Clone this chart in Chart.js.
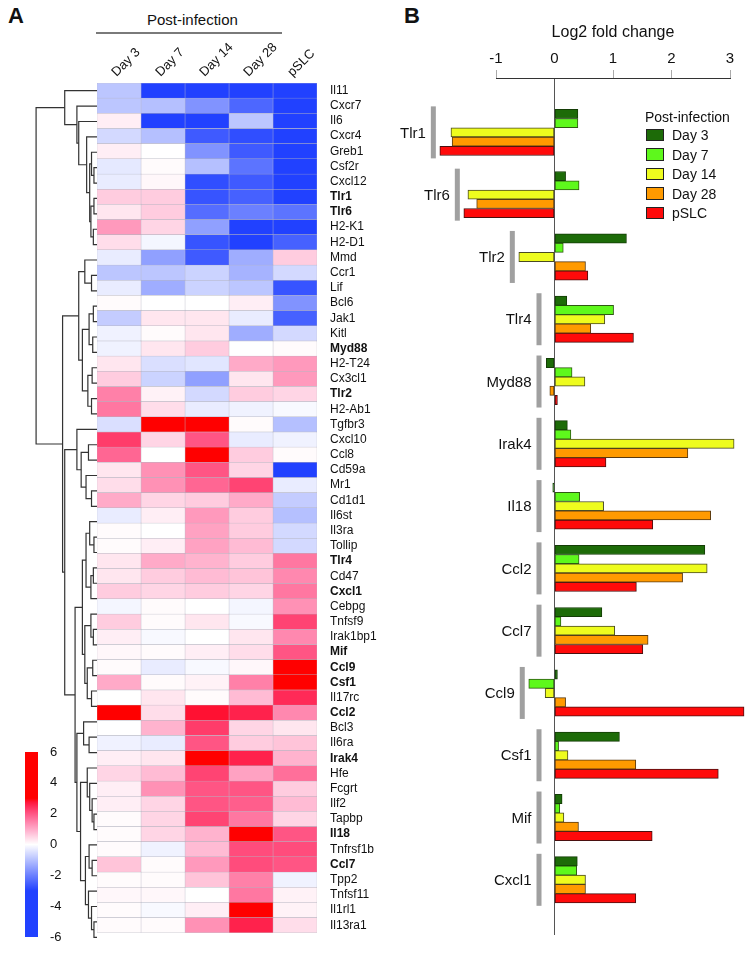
<!DOCTYPE html>
<html>
<head>
<meta charset="utf-8">
<script src="https://cdn.jsdelivr.net/npm/chart.js@4.4.1/dist/chart.umd.min.js"></script>
<style>
  body { margin: 0; background: #fff; font-family: "Liberation Sans", Arial, sans-serif; color: #111; }
  #wrap { position: relative; width: 750px; height: 960px; overflow: hidden; }
  canvas { position: absolute; }
  .panel { position: absolute; font-weight: bold; font-size: 22px; line-height: 22px; }
  #postHead { position: absolute; left: 147px; top: 11px; font-size: 15px; line-height: 18px; }
  #postLine { position: absolute; left: 96px; top: 32px; width: 186px; height: 0; border-top: 2px solid #7a7a7a; }
  #legend { position: absolute; left: 645px; top: 108px; font-size: 14px; line-height: 18px; }
  #legend .item { height: 19.6px; line-height: 19.6px; white-space: nowrap; }
  #legend .box { display: inline-block; width: 16px; height: 10.5px; border: 1.2px solid #222; vertical-align: -1px; margin: 0 8px 0 1px; }
</style>
</head>
<body>
<div id="wrap">
  <div class="panel" style="left:8px; top:5px;">A</div>
  <div class="panel" style="left:404px; top:5px;">B</div>
  <div id="postHead">Post-infection</div>
  <div id="postLine"></div>
  <canvas id="dendro" width="67" height="945" style="left:30px; top:0;"></canvas>
  <canvas id="heat" width="290" height="945" style="left:97px; top:0;"></canvas>
  <canvas id="cbar" width="50" height="210" style="left:25px; top:740px;"></canvas>
  <canvas id="bars" width="410" height="960" style="left:340px; top:0;"></canvas>
  <div id="legend"></div>
</div>
<script>
// ---- Panel A: heatmap data (log2 fold change, colour saturates around +/-3)
const genes = ['Il11', 'Cxcr7', 'Il6', 'Cxcr4', 'Greb1', 'Csf2r', 'Cxcl12', 'Tlr1', 'Tlr6', 'H2-K1',
  'H2-D1', 'Mmd', 'Ccr1', 'Lif', 'Bcl6', 'Jak1', 'Kitl', 'Myd88', 'H2-T24', 'Cx3cl1',
  'Tlr2', 'H2-Ab1', 'Tgfbr3', 'Cxcl10', 'Ccl8', 'Cd59a', 'Mr1', 'Cd1d1', 'Il6st', 'Il3ra',
  'Tollip', 'Tlr4', 'Cd47', 'Cxcl1', 'Cebpg', 'Tnfsf9', 'Irak1bp1', 'Mif', 'Ccl9', 'Csf1',
  'Il17rc', 'Ccl2', 'Bcl3', 'Il6ra', 'Irak4', 'Hfe', 'Fcgrt', 'Ilf2', 'Tapbp', 'Il18',
  'Tnfrsf1b', 'Ccl7', 'Tpp2', 'Tnfsf11', 'Il1rl1', 'Il13ra1'];
const boldGenes = ['Tlr1', 'Tlr6', 'Myd88', 'Tlr2', 'Tlr4', 'Cxcl1', 'Mif', 'Ccl9', 'Csf1', 'Ccl2', 'Irak4', 'Il18', 'Ccl7'];
const heatColumns = ['Day 3', 'Day 7', 'Day 14', 'Day 28', 'pSLC'];

const heatDay3 = [-0.9, -0.9, 0.2, -0.6, 0.2, -0.35, -0.3, 0.6, 0.3, 1.2,
  0.4, -0.3, -0.9, -0.3, 0.05, -0.8, -0.2, -0.2, 0.3, 0.6,
  1.5, 1.6, -0.5, 2.3, 1.8, 0.3, 0.4, 1.0, -0.3, 0.05,
  0.05, 0.3, 0.3, 0.6, -0.15, 0.6, 0.2, 0.1, 0.05, 1.0,
  0, 3.5, 0, -0.2, 0.2, 0.5, 0.2, 0.2, 0.05, 0.05,
  0.05, 0.7, 0.05, 0.1, 0.05, 0.05];
const heatDay7 = [-4, -1.0, -4, -1.0, 0, 0.05, 0.1, 0.6, 0.6, 0.5,
  -0.15, -1.5, -0.9, -1.3, 0, 0.3, 0.05, 0.3, -0.5, -0.7,
  0.15, 0.4, 4, 0.5, 0, 1.3, 1.3, 0.5, 0.2, 0,
  0.2, 1.0, 0.6, 0.5, 0.05, 0.05, -0.1, 0.05, -0.3, 0.05,
  0.3, 0.4, 0.9, -0.3, 0.3, 0.8, 1.3, 0.5, 0.5, 0.5,
  -0.2, 0.05, 0.05, 0.1, -0.1, 0.05];
const heatDay14 = [-4, -1.7, -4, -2.6, -1.7, -1.0, -2.8, -2.7, -2.3, -1.5,
  -2.7, -2.6, -0.7, -0.7, 0, 0.3, 0.3, 0.6, -0.4, -1.5,
  -0.6, -0.3, 4, 2.0, 3.5, 2.0, 1.8, 0.6, 1.2, 1.1,
  1.1, 0.9, 0.8, 0.6, 0, 0.3, 0, 0.2, -0.1, 0.15,
  0.05, 2.8, 2.3, 2.0, 3.5, 2.2, 2.0, 2.0, 2.2, 0.9,
  0.8, 1.2, 0.7, 0, 0.2, 1.3];
const heatDay28 = [-4, -2.4, -0.9, -2.8, -2.6, -2.2, -2.6, -2.5, -2.0, -3.2,
  -3.2, -1.3, -1.2, -0.9, 0.2, -0.3, -1.3, 0, 1.0, 0.3,
  0.6, -0.2, 0.05, -0.3, 0.6, 0.5, 2.2, 1.0, 0.6, 0.6,
  0.8, 0.6, 0.7, 0.5, -0.15, -0.1, 0.3, 0.4, 0.1, 1.5,
  0.8, 2.6, 0.5, 0.6, 2.6, 1.1, 2.0, 1.9, 1.6, 3.5,
  2.1, 2.1, 1.5, 1.6, 3.5, 2.6];
const heatPSLC = [-4, -4, -4, -4, -4, -3.5, -3.3, -3.0, -2.2, -3.2,
  -2.5, 0.6, -0.6, -2.7, -1.7, -2.5, -0.6, 0.05, 1.2, 1.2,
  0.5, -0.1, -1.0, -0.2, 0.05, -3.0, -0.3, -0.8, -1.0, -0.6,
  -0.6, 1.6, 1.4, 1.6, 1.3, 2.2, 1.4, 2.0, 3.5, 3.5,
  2.5, 1.4, 0.3, 0.7, 0.9, 1.7, 0.6, 0.8, 0.5, 2.0,
  2.1, 2.0, -0.2, 0.15, 0.15, 0.4];
const heatSeries = [heatDay3, heatDay7, heatDay14, heatDay28, heatPSLC];

const colorbarMin = -6;
const colorbarMax = 6;
const colorbarStep = 2;

// Row clustering: [height, left, right]; leaves are gene names
const dendrogram = [10,
  [5.3, 'Il11',
    [3.3, 'Cxcr7',
      [3.0, 'Il6',
        [1.7, 'Cxcr4',
          [1.2,
            [0.9, 'Greb1', [0.5, 'Csf2r', 'Cxcl12']],
            [1.0, [0.5, 'Tlr1', 'Tlr6'], [0.6, 'H2-K1', 'H2-D1']]]]]]],
  [5.65,
    [3.0,
      [2.0, 'Mmd', [0.9, 'Ccr1', 'Lif']],
      [2.4,
        [1.3, [0.6, 'Bcl6', 'Jak1'], [0.7, 'Kitl', 'Myd88']],
        [1.5, [0.8, 'H2-T24', 'Cx3cl1'], [0.9, 'Tlr2', 'H2-Ab1']]]],
    [5.3,
      [3.3, 'Tgfbr3', [2.6, [1.4, 'Cxcl10', 'Ccl8'], [1.8, 'Cd59a', [0.9, 'Mr1', 'Cd1d1']]]],
      [3.6,
        [2.4,
          [1.8, [1.2, 'Il6st', [0.5, 'Il3ra', 'Tollip']], [1.0, [0.6, 'Tlr4', 'Cd47'], 'Cxcl1']],
          [2.0, [1.0, 'Cebpg', [0.6, 'Tnfsf9', 'Irak1bp1']], [1.6, [0.7, 'Mif', 'Ccl9'], [0.9, 'Csf1', 'Il17rc']]]],
        [3.3,
          [2.2, 'Ccl2', [1.3, 'Bcl3', 'Il6ra']],
          [2.7,
            [1.6, 'Irak4', [1.2, 'Hfe', [0.8, 'Fcgrt', [0.5, 'Ilf2', 'Tapbp']]]],
            [1.9, [1.3, 'Il18', [0.8, 'Tnfrsf1b', 'Ccl7']], [1.4, 'Tpp2', [0.9, 'Tnfsf11', [0.5, 'Il1rl1', 'Il13ra1']]]]]]]]]];

// ---- Panel B: selected genes, log2 fold change
const barGenes = ['Tlr1', 'Tlr6', 'Tlr2', 'Tlr4', 'Myd88', 'Irak4', 'Il18', 'Ccl2', 'Ccl7', 'Ccl9', 'Csf1', 'Mif', 'Cxcl1'];
const seriesNames = ['Day 3', 'Day 7', 'Day 14', 'Day 28', 'pSLC'];
const foldDay3 = [0.40, 0.19, 1.23, 0.21, -0.14, 0.22, -0.03, 2.57, 0.81, 0.05, 1.11, 0.13, 0.39];
const foldDay7 = [0.40, 0.42, 0.15, 1.01, 0.30, 0.28, 0.43, 0.42, 0.11, -0.44, 0.07, 0.09, 0.38];
const foldDay14 = [-1.77, -1.48, -0.61, 0.86, 0.52, 3.07, 0.84, 2.61, 1.03, -0.16, 0.23, 0.16, 0.53];
const foldDay28 = [-1.75, -1.33, 0.53, 0.62, -0.08, 2.28, 2.67, 2.19, 1.60, 0.19, 1.39, 0.41, 0.53];
const foldPSLC = [-1.96, -1.55, 0.57, 1.35, 0.05, 0.88, 1.68, 1.40, 1.51, 3.24, 2.80, 1.67, 1.39];
const foldSeries = [foldDay3, foldDay7, foldDay14, foldDay28, foldPSLC];
const foldMin = -1;
const foldMax = 3;

const seriesColors = ['#1d6b08', '#5ef81c', '#eefc1e', '#ff9a00', '#ff0a0a'];
const seriesBorders = ['#143d06', '#2f5a12', '#4a4a22', '#5a3a10', '#4a1010'];

const FONT = '"Liberation Sans", Arial, sans-serif';
Chart.defaults.font.family = FONT;
Chart.defaults.color = '#111';

function heatColor(v) {
  const t = Math.max(-1, Math.min(1, v / 3));
  if (t >= 0) {
    const g = Math.round(255 * (1 - t));
    const b = Math.round(255 * Math.pow(1 - t, 0.6));
    return `rgb(255,${g},${b})`;
  }
  const s = -t;
  return `rgb(${Math.round(255 - 222 * s)},${Math.round(255 - 190 * s)},255)`;
}

// ---- Dendrogram: one line dataset per merge
const dendroSets = [];
function layoutNode(node) {
  if (typeof node === 'string') return { pos: genes.indexOf(node), h: 0 };
  const [h, a, b] = node;
  const l = layoutNode(a);
  const r = layoutNode(b);
  dendroSets.push({
    data: [{ x: l.h, y: l.pos }, { x: h, y: l.pos }, { x: h, y: r.pos }, { x: r.h, y: r.pos }],
    showLine: true,
    borderColor: '#333',
    borderWidth: 1.2,
    pointRadius: 0
  });
  return { pos: (l.pos + r.pos) / 2, h };
}
layoutNode(dendrogram);

new Chart(document.getElementById('dendro'), {
  type: 'scatter',
  data: { datasets: dendroSets },
  options: {
    responsive: false,
    animation: false,
    layout: { padding: { top: 83, left: 0, right: 0, bottom: 0 } },
    plugins: { legend: { display: false }, tooltip: { enabled: false } },
    scales: {
      x: { type: 'linear', display: false, min: 0, max: 11, reverse: true },
      y: { type: 'linear', display: false, min: -0.5, max: genes.length - 0.5, reverse: true }
    }
  }
});

// ---- Heatmap as stacked unit bars
new Chart(document.getElementById('heat'), {
  type: 'bar',
  data: {
    labels: genes,
    datasets: heatColumns.map((name, j) => ({
      label: name,
      data: genes.map(() => 1),
      backgroundColor: heatSeries[j].map(heatColor),
      borderColor: '#b4b4c0',
      borderWidth: 0.5,
      borderSkipped: false,
      barPercentage: 1,
      categoryPercentage: 1
    }))
  },
  options: {
    indexAxis: 'y',
    responsive: false,
    animation: false,
    layout: { padding: 0 },
    plugins: { legend: { display: false }, tooltip: { enabled: false } },
    scales: {
      x: {
        type: 'linear',
        position: 'top',
        stacked: true,
        min: 0,
        max: heatColumns.length,
        grid: { display: false },
        border: { display: false },
        afterBuildTicks: axis => { axis.ticks = heatColumns.map((c, i) => ({ value: i + 0.5 })); },
        afterFit: axis => { axis.height = 83; },
        ticks: {
          autoSkip: false,
          minRotation: 45,
          maxRotation: 45,
          padding: -5,
          labelOffset: 6,
          font: { size: 13 },
          callback: (v, i) => heatColumns[i]
        }
      },
      y: {
        position: 'right',
        stacked: true,
        grid: { display: false },
        border: { display: false },
        afterFit: axis => { axis.width = 70; },
        ticks: {
          autoSkip: false,
          padding: 5,
          font: c => ({ size: 12, weight: boldGenes.includes(genes[c.index]) ? 'bold' : 'normal' })
        }
      }
    }
  }
});

// ---- Colour key
new Chart(document.getElementById('cbar'), {
  type: 'bar',
  data: {
    labels: ['key'],
    datasets: [{
      data: [[colorbarMin, colorbarMax]],
      barPercentage: 1,
      categoryPercentage: 1,
      borderWidth: 0,
      backgroundColor: c => {
        const area = c.chart.chartArea;
        if (!area) return '#ccc';
        const g = c.chart.ctx.createLinearGradient(0, area.bottom, 0, area.top);
        for (let v = colorbarMin; v <= colorbarMax; v += 0.25) {
          g.addColorStop((v - colorbarMin) / (colorbarMax - colorbarMin), heatColor(v));
        }
        return g;
      }
    }]
  },
  options: {
    responsive: false,
    animation: false,
    layout: { padding: { top: 12, bottom: 13, left: 0, right: 0 } },
    plugins: { legend: { display: false }, tooltip: { enabled: false } },
    scales: {
      x: { display: false },
      y: {
        position: 'right',
        min: colorbarMin,
        max: colorbarMax,
        grid: { display: false },
        border: { display: false },
        afterFit: axis => { axis.width = 37; },
        ticks: { stepSize: colorbarStep, padding: 4, font: { size: 13 } }
      }
    }
  }
});

// ---- Panel B: grouped horizontal bars
const groupMarks = {
  id: 'groupMarks',
  afterDatasetsDraw(chart) {
    const { ctx, scales: { x, y } } = chart;
    ctx.save();
    barGenes.forEach((gene, i) => {
      const low = Math.min(0, ...foldSeries.map(s => s[i]));
      const right = Math.min(x.getPixelForValue(low) - 4, x.getPixelForValue(0) - 13);
      const yc = y.getPixelForValue(i);
      ctx.fillStyle = '#a0a0a0';
      ctx.fillRect(right - 5, yc - 26, 5, 52);
      ctx.fillStyle = '#111';
      ctx.font = '15px ' + FONT;
      ctx.textAlign = 'right';
      ctx.textBaseline = 'middle';
      ctx.fillText(gene, right - 10, yc + 1);
    });
    ctx.restore();
  }
};

new Chart(document.getElementById('bars'), {
  type: 'bar',
  data: {
    datasets: seriesNames.map((name, j) => ({
      label: name,
      data: foldSeries[j].map((v, i) => ({ x: v, y: i })),
      backgroundColor: seriesColors[j],
      borderColor: seriesBorders[j],
      borderWidth: 1,
      borderSkipped: false,
      barThickness: 9.25,
      clip: false
    }))
  },
  options: {
    indexAxis: 'y',
    responsive: false,
    animation: false,
    layout: { padding: { left: 156, right: 20, top: 0, bottom: 25 } },
    plugins: { legend: { display: false }, tooltip: { enabled: false } },
    scales: {
      x: {
        type: 'linear',
        position: 'top',
        min: foldMin,
        max: foldMax,
        afterFit: axis => { axis.height = 78; },
        title: { display: true, text: 'Log2 fold change', font: { size: 16 }, padding: { top: 23, bottom: 0 } },
        ticks: { stepSize: 1, padding: 2, font: { size: 15 } },
        grid: {
          color: c => (c.tick && c.tick.value === 0 ? '#555' : 'rgba(0,0,0,0)'),
          tickColor: c => (c.tick && c.tick.value === 0 ? 'rgba(0,0,0,0)' : '#aaa'),
          tickLength: 8,
          lineWidth: 1
        },
        border: { display: true, color: '#333', width: 1 }
      },
      y: {
        type: 'linear',
        display: false,
        offset: false,
        reverse: true,
        min: -0.873,
        max: 12.886
      }
    }
  },
  plugins: [groupMarks]
});

// ---- Legend
const legend = document.getElementById('legend');
legend.innerHTML = '<div>Post-infection</div>' + seriesNames.map((n, j) =>
  `<div class="item"><span class="box" style="background:${seriesColors[j]}"></span>${n}</div>`).join('');
</script>
</body>
</html>
